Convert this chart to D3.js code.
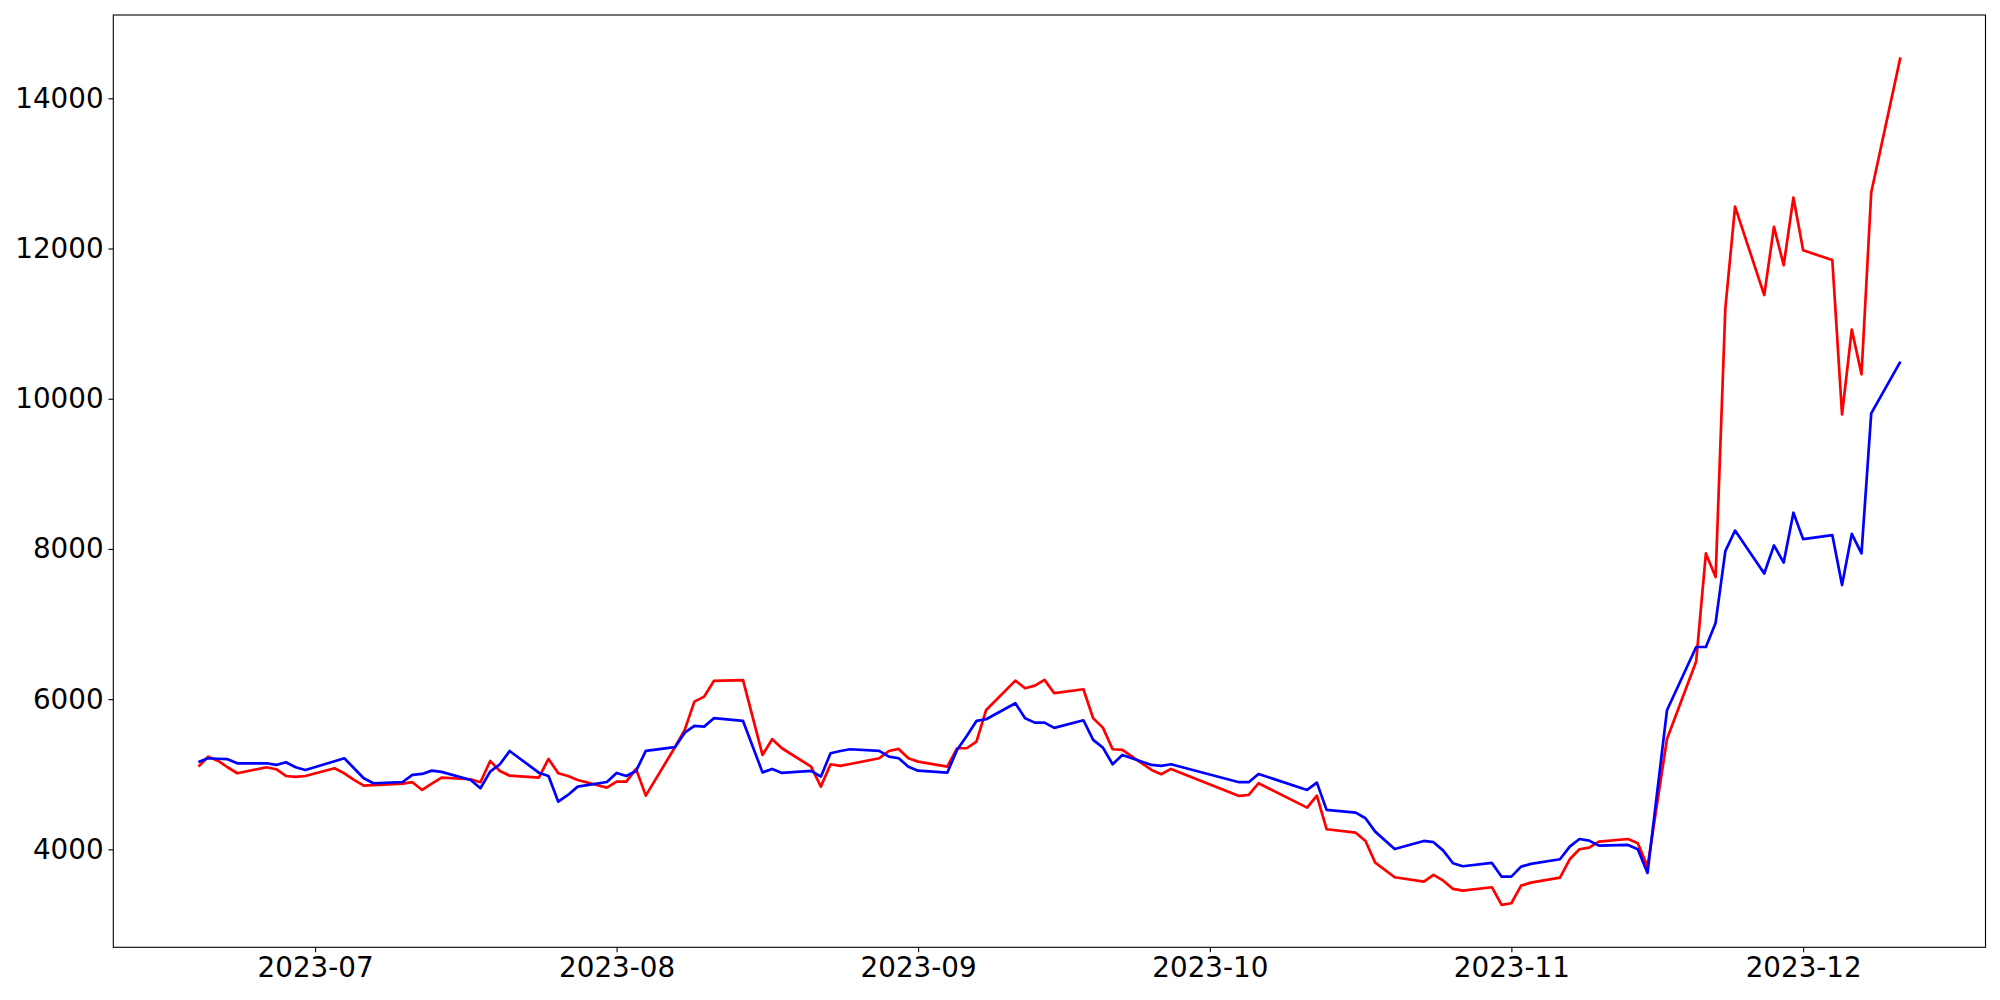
<!DOCTYPE html>
<html>
  <head>
    <meta charset="utf-8">
    <title>Two series, Jun - Dec 2023</title>
    <style>
      body { margin: 0; background: #fff; }
      .tick text {
        font-family: 'DejaVu Sans', sans-serif;
        font-size: 27.78px;
        fill: #000;
      }
      .line { fill: none; stroke-width: 2.7; stroke-linejoin: round; }
    </style>
  </head>
  <body>
    <div id="chart"></div>
    <script src="https://cdn.jsdelivr.net/npm/d3@7"></script>
    <script>
      // trading dates
      var dates = [
        "2023-06-19","2023-06-20","2023-06-21","2023-06-22","2023-06-23","2023-06-26","2023-06-27","2023-06-28","2023-06-29","2023-06-30",
        "2023-07-03","2023-07-04","2023-07-05","2023-07-06","2023-07-07","2023-07-10","2023-07-11","2023-07-12","2023-07-13","2023-07-14",
        "2023-07-17","2023-07-18","2023-07-19","2023-07-20","2023-07-21","2023-07-24","2023-07-25","2023-07-26","2023-07-27","2023-07-28","2023-07-31",
        "2023-08-01","2023-08-02","2023-08-03","2023-08-04","2023-08-07","2023-08-08","2023-08-09","2023-08-10","2023-08-11","2023-08-14",
        "2023-08-16","2023-08-17","2023-08-18","2023-08-21","2023-08-22","2023-08-23","2023-08-24","2023-08-25","2023-08-28","2023-08-29","2023-08-30","2023-08-31",
        "2023-09-01","2023-09-04","2023-09-05","2023-09-06","2023-09-07","2023-09-08","2023-09-11","2023-09-12","2023-09-13","2023-09-14","2023-09-15",
        "2023-09-18","2023-09-19","2023-09-20","2023-09-21","2023-09-22","2023-09-25","2023-09-26","2023-09-27",
        "2023-10-04","2023-10-05","2023-10-06","2023-10-11","2023-10-12","2023-10-13","2023-10-16","2023-10-17","2023-10-18","2023-10-20",
        "2023-10-23","2023-10-24","2023-10-25","2023-10-26","2023-10-27","2023-10-30","2023-10-31",
        "2023-11-01","2023-11-02","2023-11-03","2023-11-06","2023-11-07","2023-11-08","2023-11-09","2023-11-10","2023-11-13","2023-11-14","2023-11-15",
        "2023-11-17","2023-11-20","2023-11-21","2023-11-22","2023-11-23","2023-11-24","2023-11-27","2023-11-28","2023-11-29","2023-11-30",
        "2023-12-01","2023-12-04","2023-12-05","2023-12-06","2023-12-07","2023-12-08","2023-12-11"
      ];

      var redValues = [
        5101, 5234, 5181, 5093, 5013, 5093, 5067, 4977, 4964, 4977,
        5080, 5013, 4924, 4848, 4855, 4875, 4894, 4791, 4875, 4955,
        4933, 4894, 5177, 5044, 4981, 4955, 5204, 5013, 4977, 4924, 4822,
        4901, 4901, 5071, 4715, 5360, 5590, 5967, 6033, 6242, 6252,
        5257, 5466, 5346, 5101, 4835, 5133, 5111, 5136, 5213, 5310, 5337, 5213,
        5168, 5101, 5346, 5346, 5434, 5856, 6246, 6145, 6180, 6256, 6079,
        6132, 5746, 5621, 5333, 5324, 5057, 5000, 5071,
        4711, 4724, 4880, 4555, 4715, 4268, 4222, 4112, 3823, 3628,
        3570, 3659, 3583, 3473, 3450, 3495, 3260,
        3282, 3517, 3557, 3623, 3868, 4001, 4023, 4103, 4138, 4081, 3770,
        5470, 6502, 7940, 7626, 11204, 12557, 11380, 12289, 11777, 12679,
        11976, 11846, 9790, 10920, 10325, 12747, 14545
      ];

      var blueValues = [
        5164, 5213, 5206, 5200, 5146, 5146, 5124, 5160, 5093, 5057,
        5172, 5213, 5080, 4947, 4880, 4897, 4991, 5004, 5048, 5031,
        4924, 4814, 5035, 5133, 5310, 5021, 4977, 4635, 4724, 4835, 4897,
        5017, 4977, 5044, 5310, 5360, 5554, 5643, 5634, 5746, 5710,
        5025, 5071, 5017, 5044, 4968, 5280, 5309, 5333, 5310, 5234, 5213, 5101,
        5048, 5021, 5324, 5510, 5710, 5732, 5945, 5746, 5687, 5687, 5617,
        5719, 5457, 5354, 5133, 5257, 5124, 5111, 5133,
        4894, 4894, 5004, 4791, 4888, 4525, 4489, 4414, 4236, 4005,
        4112, 4095, 3983, 3815, 3775, 3819, 3636,
        3636, 3770, 3806, 3868, 4036, 4138, 4116, 4049, 4059, 4001, 3686,
        5852, 6694, 6694, 7015, 7971, 8245, 7673, 8047, 7818, 8482,
        8131, 8184, 7519, 8200, 7940, 9805, 10493
      ];

      var yTicks = [4000, 6000, 8000, 10000, 12000, 14000];
      var xTicks = ["2023-07-01","2023-08-01","2023-09-01","2023-10-01","2023-11-01","2023-12-01"];

      var width = 2000, height = 1000;
      var margin = {top: 15, right: 14.5, bottom: 52.7, left: 113.3};

      var parse = d3.utcParse('%Y-%m-%d');
      var series = [
        {color: '#ff0000', values: redValues},
        {color: '#0000ff', values: blueValues}
      ];

      var t = dates.map(parse);
      var allVals = redValues.concat(blueValues);

      // matplotlib style 5% margins on both axes
      var tExt = d3.extent(t);
      var tPad = (tExt[1] - tExt[0]) * 0.05;
      var vExt = d3.extent(allVals);
      var vPad = (vExt[1] - vExt[0]) * 0.05;

      var x = d3.scaleUtc()
        .domain([new Date(+tExt[0] - tPad), new Date(+tExt[1] + tPad)])
        .range([margin.left, width - margin.right]);

      var y = d3.scaleLinear()
        .domain([vExt[0] - vPad, vExt[1] + vPad])
        .range([height - margin.bottom, margin.top]);

      var svg = d3.select('#chart')
        .append('svg')
        .attr('width', width)
        .attr('height', height);

      var line = d3.line()
        .x(function(d, i) { return x(t[i]); })
        .y(function(d) { return y(d); });

      svg.selectAll('.line')
        .data(series)
        .enter()
        .append('path')
        .attr('class', 'line')
        .attr('stroke', function(d) { return d.color; })
        .attr('d', function(d) { return line(d.values); });

      var xAxis = d3.axisBottom(x)
        .tickValues(xTicks.map(parse))
        .tickFormat(d3.utcFormat('%Y-%m'))
        .tickSize(4.86)
        .tickPadding(4.86);

      var yAxis = d3.axisLeft(y)
        .tickValues(yTicks)
        .tickFormat(d3.format('d'))
        .tickSize(4.86)
        .tickPadding(4.86);

      var gx = svg.append('g')
        .attr('transform', 'translate(0,' + (height - margin.bottom) + ')')
        .call(xAxis);
      var gy = svg.append('g')
        .attr('transform', 'translate(' + margin.left + ',0)')
        .call(yAxis);

      [gx, gy].forEach(function(g) {
        g.select('.domain').remove();
        g.selectAll('.tick line').attr('stroke', '#000').attr('stroke-width', 1.1);
      });

      // frame
      svg.append('rect')
        .attr('x', margin.left)
        .attr('y', margin.top)
        .attr('width', width - margin.left - margin.right)
        .attr('height', height - margin.top - margin.bottom)
        .attr('fill', 'none')
        .attr('stroke', '#000')
        .attr('stroke-width', 1.1);
    </script>
  </body>
</html>
